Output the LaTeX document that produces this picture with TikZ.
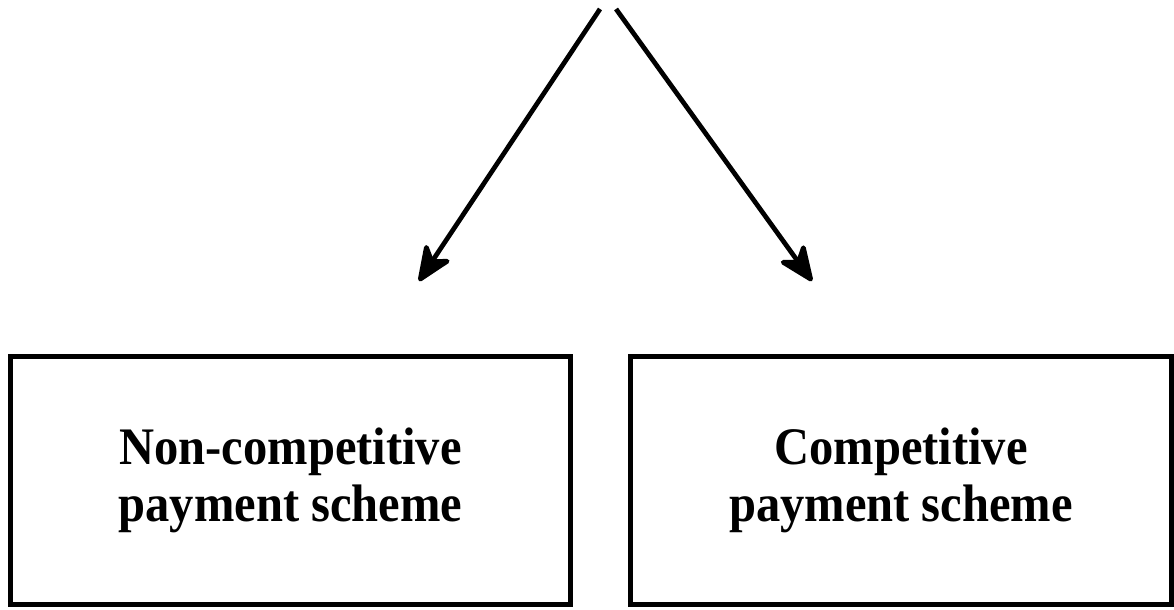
\documentclass[tikz,border=0pt]{standalone}
\usepackage{fontspec}
\setmainfont{Liberation Serif}
\newfontfamily\narrowserif[FakeStretch=0.92]{Liberation Serif}
\usetikzlibrary{arrows.meta}

\tikzset{
  schemebox/.style={draw, line width=1.3pt, minimum width=5.6cm, minimum height=2.48cm,
    align=center, font=\narrowserif\fontsize{15}{16}\selectfont\bfseries},
  branch/.style={line width=1.35pt, -{Stealth[length=12pt, width=10pt, round, inset=3.5pt]}}
}

\begin{document}
\begin{tikzpicture}[x=0.01cm, y=-0.01cm]
\useasboundingbox (0,0) rectangle (1174,609);

% Sommet
\coordinate (topleft) at (600,9);
\coordinate (topright) at (616,9);

% Deux schémas
\node[schemebox] (noncomp) at (290.5,480.5) {Non-competitive\\payment scheme};
\node[schemebox, minimum width=5.41cm] (comp) at (901,480.5) {Competitive\\payment scheme};

% Flèches
\coordinate (tipleft) at (419,281);
\coordinate (tipright) at (812,281);
\draw[branch] (topleft) -- (tipleft);
\draw[branch] (topright) -- (tipright);

\end{tikzpicture}
\end{document}
